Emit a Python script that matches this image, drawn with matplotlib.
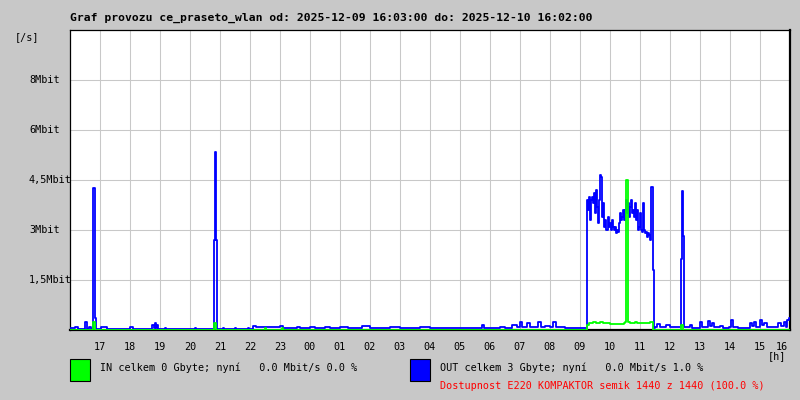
import numpy as np
import matplotlib.pyplot as plt
from matplotlib import transforms

# --- data (minutes since 16:00, Mbit/s) ---
hour_labels = ["17", "18", "19", "20", "21", "22", "23", "00", "01", "02", "03", "04",
               "05", "06", "07", "08", "09", "10", "11", "12", "13", "14", "15", "16"]
ytick_values = [1.5, 3.0, 4.5, 6.0, 7.5]
ytick_labels = ["1,5Mbit", "3Mbit", "4,5Mbit", "6Mbit", "8Mbit"]

out_min = [0, 10, 16, 30, 34, 38, 42, 46, 49, 51, 62, 74, 120, 126, 164, 168, 170, 172, 174,
           176, 190, 192, 250, 252, 288, 290, 292, 294, 306, 308, 330, 332, 356, 358, 366, 372,
           420, 426, 454, 460, 480, 490, 510, 520, 540, 556, 584, 600, 640, 660, 700, 720, 760,
           824, 828, 860, 870, 884, 894, 900, 904, 914, 920, 936, 942, 950, 960, 966, 972, 984,
           990, 1030]
out_val = [0.05, 0.1, 0.04, 0.25, 0.04, 0.08, 0.03, 4.25, 0.36, 0.03, 0.08, 0.03, 0.08, 0.03,
           0.15, 0.05, 0.2, 0.05, 0.15, 0.03, 0.06, 0.03, 0.05, 0.03, 2.7, 5.35, 2.7, 0.03, 0.06,
           0.03, 0.05, 0.03, 0.05, 0.03, 0.12, 0.09, 0.12, 0.07, 0.1, 0.06, 0.1, 0.07, 0.1, 0.06,
           0.1, 0.06, 0.12, 0.07, 0.1, 0.05, 0.08, 0.05, 0.06, 0.15, 0.06, 0.1, 0.06, 0.15, 0.08,
           0.25, 0.08, 0.2, 0.08, 0.25, 0.08, 0.12, 0.08, 0.25, 0.08, 0.1, 0.06, 0.06]

# busy period 09:14 - 11:26, every 2 minutes
busy_min = list(range(1034, 1170, 2))
busy_val = [3.9, 3.6, 4.0, 3.3, 3.9, 4.0, 3.8, 4.1, 3.5, 4.2, 3.7, 3.2, 3.9, 4.65, 4.6, 3.4,
            3.8, 3.1, 3.3, 3.0, 3.0, 3.4, 3.1, 3.2, 3.0, 3.3, 3.1, 3.0, 3.1, 2.9, 3.0, 2.95,
            3.2, 3.5, 3.3, 3.4, 3.6, 3.3, 3.6, 3.9, 3.5, 3.8, 3.4, 3.7, 3.9, 3.5, 3.6, 3.4,
            3.8, 3.3, 3.6, 3.0, 3.1, 3.5, 3.0, 2.95, 3.8, 3.0, 2.9, 2.95, 2.8, 2.9, 2.85, 2.7,
            4.3, 4.3, 1.8, 0.05]

tail_min = [1170, 1174, 1180, 1192, 1200, 1218, 1222, 1224, 1226, 1228, 1240, 1244, 1260, 1264,
            1276, 1280, 1284, 1288, 1300, 1306, 1318, 1322, 1326, 1336, 1360, 1364, 1368, 1372,
            1380, 1384, 1388, 1394, 1410, 1416, 1422, 1428, 1432, 1434, 1438, 1440]
tail_val = [0.08, 0.18, 0.08, 0.15, 0.08, 0.08, 2.13, 4.18, 2.83, 0.08, 0.15, 0.06, 0.23, 0.08,
            0.27, 0.12, 0.2, 0.08, 0.12, 0.06, 0.1, 0.3, 0.1, 0.07, 0.2, 0.12, 0.25, 0.1, 0.3,
            0.15, 0.2, 0.08, 0.1, 0.2, 0.12, 0.25, 0.1, 0.3, 0.35, 0.35]

in_min = [0, 46, 50, 288, 292, 390, 392, 424, 426, 1034, 1038, 1046, 1052, 1060, 1066, 1080,
          1108, 1110, 1112, 1116, 1120, 1130, 1134, 1150, 1160, 1166, 1222, 1226, 1440]
in_val = [0.0, 0.25, 0.0, 0.2, 0.0, 0.05, 0.0, 0.05, 0.0, 0.15, 0.2, 0.25, 0.2, 0.25, 0.2, 0.18,
          0.22, 0.25, 4.5, 0.25, 0.2, 0.25, 0.2, 0.22, 0.25, 0.0, 0.15, 0.0, 0.0]

title = "Graf provozu ce_praseto_wlan od: 2025-12-09 16:03:00 do: 2025-12-10 16:02:00"
in_text = "IN celkem 0 Gbyte; nyní   0.0 Mbit/s 0.0 %"
out_text = "OUT celkem 3 Gbyte; nyní   0.0 Mbit/s 1.0 %"
avail_text = "Dostupnost E220 KOMPAKTOR semik 1440 z 1440 (100.0 %)"

bg = "#c8c8c8"
mono = "DejaVu Sans Mono"

fig = plt.figure(figsize=(8, 4), dpi=100, facecolor=bg)
ax = fig.add_axes([70 / 800, 70 / 400, 720 / 800, 300 / 400])
ax.set_facecolor("white")

out_t = np.array(out_min + busy_min + tail_min) / 60.0
out_v = np.array(out_val + busy_val + tail_val)
in_t = np.array(in_min) / 60.0
in_v = np.array(in_val)

ax.step(out_t, out_v, where="post", color="#0000ff", lw=1.3, zorder=3)
ax.step(in_t, in_v, where="post", color="#00ff00", lw=1.3, zorder=4)

ax.set_xlim(0, 24)
ax.set_ylim(0, 9)
ax.set_xticks(range(1, 24))
ax.set_yticks(ytick_values)
ax.grid(True, color="#c8c8c8", lw=0.75)
ax.set_axisbelow(True)
ax.tick_params(length=0, labelbottom=False, labelleft=False)
for side in ["left", "top"]:
    ax.spines[side].set_linewidth(0.9)
for side in ["right", "bottom"]:
    ax.spines[side].set_linewidth(1.6)

# y labels, left aligned at x=29px
ytr = transforms.blended_transform_factory(fig.transFigure, ax.transData)
for v, lab in zip(ytick_values, ytick_labels):
    ax.text(29 / 800, v, lab, transform=ytr, ha="left", va="center",
            fontsize=7.3, family=mono, clip_on=False)

# hour labels
xtr = transforms.blended_transform_factory(ax.transData, fig.transFigure)
for i, lab in enumerate(hour_labels):
    h = i + 1
    if h == 24:
        ax.text(23.95, 1 - 347 / 400, lab, transform=xtr, ha="right", va="center",
                fontsize=7.3, family=mono, clip_on=False)
    else:
        ax.text(h, 1 - 347 / 400, lab, transform=xtr, ha="center", va="center",
                fontsize=7.3, family=mono, clip_on=False)

fig.text(70 / 800, 1 - 18 / 400, title, ha="left", va="center", fontsize=8.2,
         family=mono, fontweight="bold")
fig.text(15 / 800, 1 - 37 / 400, "[/s]", ha="left", va="center", fontsize=7.3, family=mono)
fig.text(786 / 800, 1 - 356 / 400, "[h]", ha="right", va="center", fontsize=7.3, family=mono)

# legend boxes
fig.patches.append(plt.Rectangle((70 / 800, 1 - 381 / 400), 20 / 800, 22 / 400,
                                 transform=fig.transFigure, facecolor="#00ff00",
                                 edgecolor="black", lw=0.8))
fig.patches.append(plt.Rectangle((410 / 800, 1 - 381 / 400), 20 / 800, 22 / 400,
                                 transform=fig.transFigure, facecolor="#0000ff",
                                 edgecolor="black", lw=0.8))
fig.text(100 / 800, 1 - 368 / 400, in_text, ha="left", va="center", fontsize=7.3, family=mono)
fig.text(440 / 800, 1 - 368 / 400, out_text, ha="left", va="center", fontsize=7.3, family=mono)
fig.text(440 / 800, 1 - 386 / 400, avail_text, ha="left", va="center", fontsize=7.3,
         family=mono, color="red")

fig.savefig("out.png", dpi=100, facecolor=bg)
